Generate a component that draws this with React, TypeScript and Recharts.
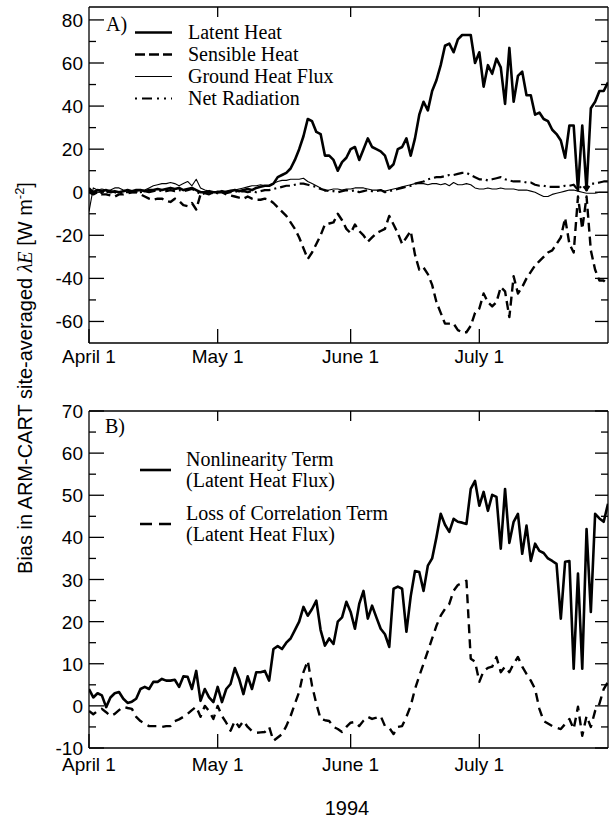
import React from 'react';
import { LineChart, Line, XAxis, YAxis, Legend } from 'recharts';

// Days since April 1, 1994 (April 1 = 0 ... July 31 = 121)
const dayIndex: number[] = Array.from({ length: 122 }, (_, i) => i);

const monthTicks = [0, 30, 61, 91];
const monthLabels = ['April 1', 'May 1', 'June 1', 'July 1'];

const panelATicks = [-60, -50, -40, -30, -20, -10, 0, 10, 20, 30, 40, 50, 60, 70, 80];
const panelBTicks = [-10, -5, 0, 5, 10, 15, 20, 25, 30, 35, 40, 45, 50, 55, 60, 65, 70];

// Panel A: bias in surface energy fluxes [W m-2]
const latentHeat = [
  1, 0, 1, 0.5, 1, 0, 0.5, 0, 0.5, 1,
  0.5, 1, 1, 0.5, 1, 1, 1.5, 1, 1.5, 2,
  1.5, 2, 1, 1.5, 2, 1, 0, 0, 0.5, 0,
  0, 0.5, 0, 0.5, 1, 0.5, 1, 1.5, 1, 2,
  2.5, 3, 3, 4, 7, 8, 9, 11, 15, 20,
  26, 34, 33, 28, 27, 17, 17, 15, 10, 14,
  16, 20, 21, 15, 20, 25, 21, 20, 19, 17,
  11, 13, 20, 21, 25, 17, 25, 36, 42, 38,
  47, 52, 59, 68, 69, 65, 71, 73, 73, 73,
  60, 65, 49, 59, 55, 62, 58, 41, 67, 42,
  54, 56, 45, 45, 36, 37, 34, 33, 29, 27,
  24, 16, 31, 31, 1, 31, 1, 39, 42, 47,
  47, 51,
];

const sensibleHeat = [
  0, -1, 0, -1, -1, -1.5, -2, -1, -1, -0.5,
  0, 0, -1, -2, -3, -3.5, -3, -3, -4, -4.5,
  -3, -4, -6, -6.5, -5, -8, -1, 0, 0, -0.5,
  0, 0, -1, -1.5, -2, -2.5, -3, -2, -3, -3.5,
  -3.5, -3, -3.5, -5, -7, -9, -11, -14, -17, -21,
  -26, -31, -28, -24, -20, -15, -14.5, -14, -10, -13,
  -17, -19, -15, -18, -20, -23, -21, -19, -18, -17,
  -11, -15, -19, -24, -21, -18, -29, -36, -35, -38,
  -43, -51, -56, -61, -61, -61, -64, -65, -65, -62,
  -56, -54, -47, -51, -53, -51, -44, -46, -58, -39,
  -47, -44, -40, -37, -34, -32, -30, -28, -27, -24,
  -21, -12, -24, -28, -2, -17, -2, -27, -36, -41,
  -41, -43,
];

const groundHeat = [
  -9, 2, 1, 1.5, 1, 1, 2, 2, 1, 0.5,
  0, 0.5, 1, 1, 2, 3, 3.5, 4, 4, 4.5,
  4, 3, 4, 5, 3, 6, 2, 1, 0.5, 0,
  0.5, 0, 0.5, 1, 1, 1.5, 2, 2.5, 3, 3,
  3.5, 3, 3, 4, 5, 5.5, 5.5, 6, 6, 6,
  6.5, 5, 4, 3, 2, 0.5, 1, 1.5, 1.5, 1,
  1.5, 1.5, 2, 2, 2, 1.5, 1, 1, 1, 0.5,
  1, 1.5, 2, 2.5, 3, 3.5, 4, 4, 4, 3.5,
  4, 4, 3.5, 4, 3, 4.5, 3.5, 3.5, 4, 3.5,
  2, 1.5, 1.5, 2, 1.5, 1.5, 2, 1.5, 1.5, 1.5,
  1, 1, 1, 0.5, 0, -1, -2, -2, -1, -0.5,
  0, 0.5, 1, 1, 0.5, 0, -0.5, -0.5, -0.5, 0,
  0, 0,
];

const netRadiation = [
  2, 0, 0.5, -0.5, 0, 0.5, 0, -0.5, 0, 0,
  0, 0, 0, 0.5, 0, 0.5, 1, 0.5, 0.5, 1,
  0.5, 1, 0.5, 1, 1.5, 0.5, -1, -0.5, -1, 0,
  -0.5, 0, -0.5, 0, 0.5, 0, 0.5, 0, 0.5, 0,
  0.5, 1, 1, 1.5, 2, 2.5, 3, 3, 3.5, 4,
  4, 3.5, 3, 2.5, 1.5, 1, 0.5, 0.5, 0, 0.5,
  1, 0.5, 1, 0, 0.5, 1, 0.5, 0.5, 1, 0,
  0.5, 1, 1.5, 2, 2.5, 3, 4, 4.5, 5, 6,
  6.5, 7, 7, 7.5, 8, 8, 8.5, 9, 9, 8,
  7, 6, 6, 5.5, 6, 6.5, 7, 6, 5.5, 5,
  5, 5, 4.5, 4.5, 3.5, 3, 3, 2.5, 2.5, 2.5,
  2.5, 3, 3, 3.5, 1, 3.5, 1, 4, 4, 4.5,
  5, 5,
];

// Panel B: decomposition of the latent heat flux bias
const nonlinearityTerm = [
  4, 2, 3, 2.5, -0.3, 2, 3, 3.3, 1.7, 0.7,
  1, 1.7, 4, 4.5, 4, 5.7, 5.7, 6.4, 6, 6,
  6.2, 4.5, 7, 6.9, 4, 8.3, 1.2, 4, 2, 0.9,
  4.5, 0.9, 4, 5.2, 9, 6.4, 2.8, 7, 4, 8,
  8, 8.3, 6, 13.5, 14.2, 13.5, 15, 16, 18, 20,
  23.5, 21.4, 23, 25, 18, 14.3, 16, 14.7, 20, 21,
  24.7, 22.3, 18.3, 24.2, 27.3, 20.7, 23.8, 21, 18.3, 17,
  14, 27.8, 28.3, 27.8, 17.6, 26, 32, 31.8, 27.3, 33.3,
  35, 40, 45.6, 43, 41.3, 44.4, 43.7, 43.5, 43.2, 51.5,
  53.4, 47.5, 50.8, 46.3, 50.1, 49.6, 37.3, 51.5, 38.7, 43.7,
  45.6, 36.1, 42.8, 34.4, 38.5, 36.8, 36.3, 35, 34.4, 33.7,
  20.7, 34.2, 34.4, 8.8, 31.4, 8.8, 42, 22.3, 45.6, 44.5,
  43.7, 48,
];

const lossOfCorrelationTerm = [
  -1.2, -2, -1.2, -0.7, -1.5, -2.4, -1.9, -1, -0.2, -0.5,
  -0.7, -2.6, -3.6, -4.2, -4.8, -4.8, -4.8, -5, -4.8, -4.8,
  -3.6, -3.2, -2.6, -1.9, -1, -0.2, -2.6, 0, -1.2, -3.1,
  0, -2.4, -4, -5.9, -3.6, -5, -3.6, -5, -6, -6.4,
  -6.3, -6.2, -5, -8.3, -7.5, -6.7, -4.8, -2.4, 0.5, 3.3,
  8, 10.7, 4.8, 0.5, -3.1, -3.4, -3.6, -5, -5.5, -6.2,
  -5, -4, -3.8, -4.8, -3.5, -2.6, -3.1, -2.8, -2.4, -4.8,
  -5.2, -6.7, -5, -4.8, -2.6, 0, 4, 7.1, 10, 13,
  16, 19, 21.4, 23, 24.2, 27.3, 28.7, 29.2, 29.7, 11.2,
  10.5, 5.7, 8.3, 9, 9.3, 11.6, 8, 9.3, 8, 10,
  11.6, 9.3, 7.6, 6, 4, -0.7, -3.6, -4.2, -4.8, -5.2,
  -5.5, -4.3, -3.1, -5.5, -0.2, -7.1, -2.4, -5, -1.2, 0.5,
  4, 5.7,
];

const rowsA = dayIndex.map((d, i) => ({
  day: d,
  latent: latentHeat[i],
  sensible: sensibleHeat[i],
  ground: groundHeat[i],
  netRad: netRadiation[i],
}));

const rowsB = dayIndex.map((d, i) => ({
  day: d,
  nonlin: nonlinearityTerm[i],
  loss: lossOfCorrelationTerm[i],
}));

const SANS = '"Liberation Sans", Arial, Helvetica, sans-serif';
const SERIF = '"Liberation Serif", "Times New Roman", Times, serif';
const INK = '#000';

type SeriesStyle = { name: string; width: number; dash?: string; legendDash?: string };

const seriesA: { key: string; style: SeriesStyle }[] = [
  { key: 'latent', style: { name: 'Latent Heat', width: 2.6 } },
  { key: 'sensible', style: { name: 'Sensible Heat', width: 2.4, dash: '9 5', legendDash: '10 4' } },
  { key: 'ground', style: { name: 'Ground Heat Flux', width: 1.1 } },
  { key: 'netRad', style: { name: 'Net Radiation', width: 2.2, dash: '10 4 2 4', legendDash: '2 5 10 5 2 5' } },
];

const seriesB: { key: string; style: SeriesStyle }[] = [
  { key: 'nonlin', style: { name: 'Nonlinearity Term', width: 2.6 } },
  { key: 'loss', style: { name: 'Loss of Correlation Term', width: 2.4, dash: '9 6', legendDash: '12 7' } },
];
const legendSubtitle = '(Latent Heat Flux)';

const axisLine = { stroke: INK, strokeWidth: 1.3 };

const makeLeftTick = (labelStep: number) => (p: any) => {
  const v = p.payload.value as number;
  const major = Math.abs(v % labelStep) === 0;
  return (
    <g>
      <line x1={p.x} x2={p.x + (major ? 15 : 7)} y1={p.y} y2={p.y} stroke={INK} strokeWidth={1.3} />
      {major && (
        <text x={p.x - 6} y={p.y} dy={7} textAnchor="end" fontFamily={SANS} fontSize={19} fill={INK}>
          {v}
        </text>
      )}
    </g>
  );
};

const makeRightTick = (labelStep: number) => (p: any) => {
  const v = p.payload.value as number;
  const major = Math.abs(v % labelStep) === 0;
  return <line x1={p.x} x2={p.x - (major ? 13 : 7)} y1={p.y} y2={p.y} stroke={INK} strokeWidth={1.3} />;
};

const makeBottomTick = (labelOffset: number) => (p: any) => {
  const idx = monthTicks.indexOf(p.payload.value);
  return (
    <g>
      <line x1={p.x} x2={p.x} y1={p.y} y2={p.y - 14} stroke={INK} strokeWidth={1.3} />
      <text x={p.x} y={p.y + labelOffset} textAnchor="middle" fontFamily={SANS} fontSize={19} fill={INK}>
        {monthLabels[idx]}
      </text>
    </g>
  );
};

const TopTick = (p: any) => (
  <line x1={p.x} x2={p.x} y1={p.y} y2={p.y + 10} stroke={INK} strokeWidth={1.3} />
);

const legendA = (props: any) => {
  const payload: any[] = props.payload || [];
  return (
    <svg width={609} height={380} style={{ display: 'block', overflow: 'visible' }}>
      <text x={106} y={31} fontFamily={SERIF} fontSize={20} fill={INK}>A)</text>
      {seriesA.map((s, i) => {
        const entry = payload.find((e) => e.dataKey === s.key);
        const y = 32.5 + i * 22;
        return (
          <g key={s.key}>
            <line x1={135} x2={172} y1={y} y2={y} stroke={INK} strokeWidth={s.style.width}
              strokeDasharray={s.style.legendDash} />
            <text x={188} y={y + 6.5} fontFamily={SERIF} fontSize={20} fill={INK}>
              {entry ? entry.value : s.style.name}
            </text>
          </g>
        );
      })}
    </svg>
  );
};

const legendB = (props: any) => {
  const payload: any[] = props.payload || [];
  return (
    <svg width={609} height={439} style={{ display: 'block', overflow: 'visible' }}>
      <text x={105} y={53} fontFamily={SERIF} fontSize={20} fill={INK}>B)</text>
      {seriesB.map((s, i) => {
        const entry = payload.find((e) => e.dataKey === s.key);
        const base = 86 + i * 54;
        return (
          <g key={s.key}>
            <line x1={140} x2={171} y1={base + 4} y2={base + 4} stroke={INK} strokeWidth={s.style.width}
              strokeDasharray={s.style.legendDash} />
            <text x={186} y={base} fontFamily={SERIF} fontSize={20} fill={INK}>
              {entry ? entry.value : s.style.name}
            </text>
            <text x={186} y={base + 21} fontFamily={SERIF} fontSize={20} fill={INK}>
              {legendSubtitle}
            </text>
          </g>
        );
      })}
    </svg>
  );
};

export default function App() {
  return (
    <div style={{ position: 'absolute', left: 0, top: 0, width: 609, height: 819, background: '#fff' }}>
      <div style={{ position: 'absolute', left: 0, top: 0 }}>
        <LineChart width={609} height={380} data={rowsA} margin={{ top: 0, right: 0, bottom: 0, left: 0 }}>
          <XAxis xAxisId="b" dataKey="day" type="number" domain={[0, 121]} ticks={monthTicks} interval={0}
            height={37} tickSize={0} tickMargin={0} tick={makeBottomTick(20)} axisLine={axisLine} allowDataOverflow />
          <XAxis xAxisId="t" orientation="top" type="number" domain={[0, 121]} ticks={monthTicks.slice(1)}
            interval={0} height={7} tickSize={0} tickMargin={0} tick={TopTick} axisLine={axisLine} allowDataOverflow />
          <YAxis yAxisId="l" type="number" domain={[-70, 86]} ticks={panelATicks} interval={0} width={89}
            tickSize={0} tickMargin={0} tick={makeLeftTick(20)} axisLine={axisLine} allowDataOverflow />
          <YAxis yAxisId="r" orientation="right" type="number" domain={[-70, 86]} ticks={panelATicks} interval={0}
            width={1} tickSize={0} tickMargin={0} tick={makeRightTick(20)} axisLine={axisLine} allowDataOverflow />
          {seriesA.map((s) => (
            <Line key={s.key} xAxisId="b" yAxisId="l" type="linear" dataKey={s.key} name={s.style.name}
              stroke={INK} strokeWidth={s.style.width} strokeDasharray={s.style.dash} dot={false}
              strokeLinejoin="round" isAnimationActive={false} />
          ))}
          <Legend layout="horizontal" verticalAlign="middle" align="center" content={legendA}
            wrapperStyle={{ left: 0, top: 0, width: 609, height: 380 }} />
        </LineChart>
      </div>
      <div style={{ position: 'absolute', left: 0, top: 380 }}>
        <LineChart width={609} height={439} data={rowsB} margin={{ top: 0, right: 0, bottom: 0, left: 0 }}>
          <XAxis xAxisId="b" dataKey="day" type="number" domain={[0, 121]} ticks={monthTicks} interval={0}
            height={71} tickSize={0} tickMargin={0} tick={makeBottomTick(23)} axisLine={axisLine} allowDataOverflow />
          <XAxis xAxisId="t" orientation="top" type="number" domain={[0, 121]} ticks={monthTicks.slice(1)}
            interval={0} height={31} tickSize={0} tickMargin={0} tick={TopTick} axisLine={axisLine} allowDataOverflow />
          <YAxis yAxisId="l" type="number" domain={[-10, 70]} ticks={panelBTicks} interval={0} width={89}
            tickSize={0} tickMargin={0} tick={makeLeftTick(10)} axisLine={axisLine} allowDataOverflow />
          <YAxis yAxisId="r" orientation="right" type="number" domain={[-10, 70]} ticks={panelBTicks} interval={0}
            width={1} tickSize={0} tickMargin={0} tick={makeRightTick(10)} axisLine={axisLine} allowDataOverflow />
          {seriesB.map((s) => (
            <Line key={s.key} xAxisId="b" yAxisId="l" type="linear" dataKey={s.key} name={s.style.name}
              stroke={INK} strokeWidth={s.style.width} strokeDasharray={s.style.dash} dot={false}
              strokeLinejoin="round" isAnimationActive={false} />
          ))}
          <Legend layout="horizontal" verticalAlign="middle" align="center" content={legendB}
            wrapperStyle={{ left: 0, top: 0, width: 609, height: 439 }} />
        </LineChart>
      </div>
      <svg width={609} height={819} style={{ position: 'absolute', left: 0, top: 0, pointerEvents: 'none' }}>
        <text transform="rotate(-90)" x={-378} y={32} textAnchor="middle" fontFamily={SANS} fontSize={20} fill={INK}>
          Bias in ARM-CART site-averaged{' '}
          <tspan fontFamily={SERIF} fontStyle="italic">λE</tspan>
          {' '}[W m<tspan dy={-8} fontSize={13}>-2</tspan><tspan dy={8}>]</tspan>
        </text>
        <text x={347} y={815} textAnchor="middle" fontFamily={SANS} fontSize={20} fill={INK}>1994</text>
      </svg>
    </div>
  );
}
